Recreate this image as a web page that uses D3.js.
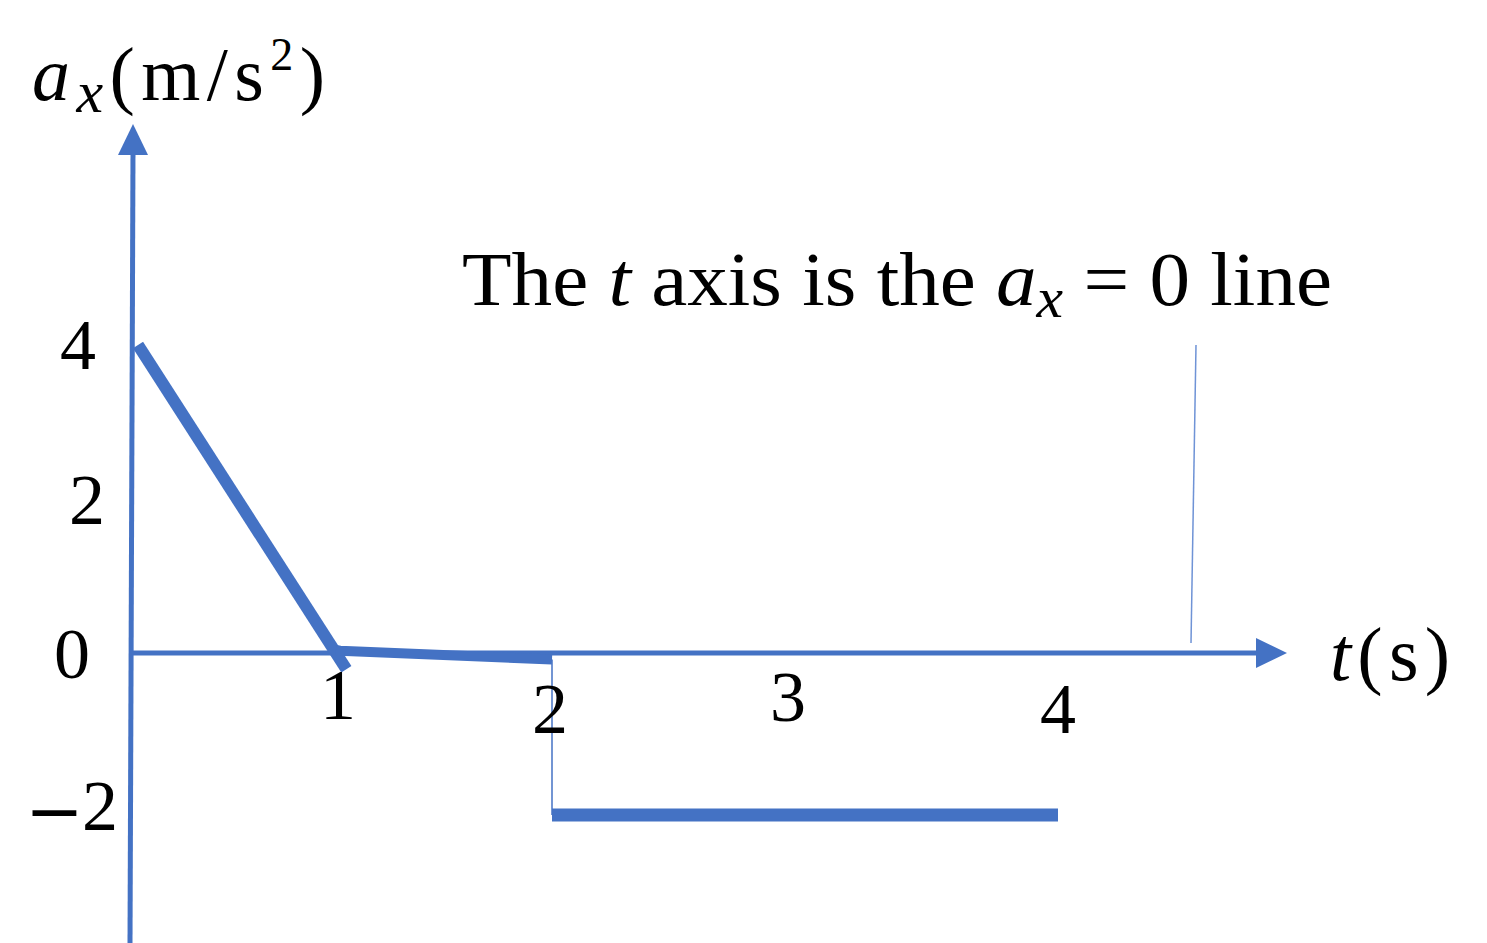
<!DOCTYPE html>
<html><head><meta charset="utf-8">
<script src="https://cdn.jsdelivr.net/npm/d3@7"></script>
<style>html,body{margin:0;padding:0;background:#fff;}svg{display:block;}</style>
</head><body>
<svg id="chart" width="1487" height="943"></svg>
<script>
// ---- data ----
const tTicks = [1, 2, 3, 4];
const tTickLabels = ["1", "2", "3", "4"];
const aTicks = [4, 2, 0, -2];
const aTickLabels = ["4", "2", "0", "\u22122"];
// segment 1: ramp from 4 down to 0 over 0..1 s
const rampT = [0, 1.03];
const rampA = [4, -0.2];
// segment 2: near zero from 1..2 s
const flatT = [0.98, 1, 2];
const flatA = [0.04, 0.03, -0.08];
// jump at t=2
const jumpT = [2, 2];
const jumpA = [-0.08, -2];
// segment 3: constant -2 from 2..4 s
const lowT = [2, 4];
const lowA = [-2, -2];

const blue = "#4472C4";
const svg = d3.select("#chart");
const serif = "'Liberation Serif', 'DejaVu Serif', serif";

// hand-drawn axis spacing -> polylinear scales
const x = d3.scaleLinear().domain([0, 1, 2, 3, 4]).range([138, 340, 552, 790, 1058]);
const y = d3.scaleLinear().domain([-2, 0, 2, 4]).range([815, 653, 500, 345]);

// axes
svg.append("line").attr("x1", 130).attr("y1", 943).attr("x2", 133).attr("y2", 150)
  .attr("stroke", blue).attr("stroke-width", 5);
svg.append("path").attr("d", "M133,124 L148,155 L118,155 Z").attr("fill", blue);
svg.append("line").attr("x1", 133).attr("y1", y(0)).attr("x2", 1258).attr("y2", y(0))
  .attr("stroke", blue).attr("stroke-width", 5);
svg.append("path").attr("d", `M1287,${y(0)} L1256,${y(0)-15} L1256,${y(0)+15} Z`).attr("fill", blue);

// data lines
const line = d3.line().x(d => x(d[0])).y(d => y(d[1]));
const zip = (a, b) => a.map((v, i) => [v, b[i]]);
svg.append("path").datum(zip(rampT, rampA)).attr("d", line)
  .attr("fill", "none").attr("stroke", blue).attr("stroke-width", 12);
svg.append("path").datum(zip(flatT, flatA)).attr("d", line)
  .attr("fill", "none").attr("stroke", blue).attr("stroke-width", 10);
svg.append("path").datum(zip(jumpT, jumpA)).attr("d", line)
  .attr("fill", "none").attr("stroke", blue).attr("stroke-width", 1.5);
svg.append("path").datum(zip(lowT, lowA)).attr("d", line)
  .attr("fill", "none").attr("stroke", blue).attr("stroke-width", 13);

// pointer line
svg.append("line").attr("x1", 1196).attr("y1", 345).attr("x2", 1191).attr("y2", 643)
  .attr("stroke", "#6f93d6").attr("stroke-width", 1.5);

// tick labels
const tOffsets = [66, 80, 68, 80];
const tDx = [0, 0, 0, 2];
svg.selectAll(".tl").data(tTicks).enter().append("text")
  .attr("x", (d, i) => x(d) + tDx[i] - 2).attr("y", (d, i) => y(0) + tOffsets[i])
  .attr("text-anchor", "middle").attr("font-family", serif).attr("font-size", 72)
  .attr("fill", "#000").text((d, i) => tTickLabels[i]);
const aX = [78, 87, 72, 118];
const aAnchor = ["middle", "middle", "middle", "end"];
const aDy = [24, 24, 25, 15];
svg.selectAll(".al").data(aTicks).enter().append("text")
  .attr("x", (d, i) => aX[i]).attr("y", (d, i) => y(d) + aDy[i])
  .attr("text-anchor", (d, i) => aAnchor[i]).attr("font-family", serif).attr("font-size", 72)
  .attr("fill", "#000")
  .each(function (d, i) {
    const s = aTickLabels[i];
    const t = d3.select(this);
    if (s.startsWith("\u2212")) {
      t.append("tspan").attr("font-family", "'DejaVu Sans', sans-serif").attr("font-size", 70)
        .attr("dy", 5).text("\u2212");
      t.append("tspan").attr("dx", -2).attr("dy", -5).text(s.slice(1));
    } else {
      t.text(s);
    }
  });

// y title
const yt = svg.append("text").attr("x", 32).attr("y", 100)
  .attr("font-family", serif).attr("font-size", 76).attr("fill", "#000")
  .attr("textLength", 293).attr("lengthAdjust", "spacing");
yt.append("tspan").attr("font-style", "italic").text("a");
yt.append("tspan").attr("font-style", "italic").attr("font-size", 60).attr("dy", 12).text("x");
yt.append("tspan").attr("dy", -12).text("(m/s");
yt.append("tspan").attr("font-size", 46).attr("dy", -30).text("2");
yt.append("tspan").attr("dy", 30).text(")");

// x title
const xt = svg.append("text").attr("x", 1330).attr("y", 680)
  .attr("font-family", serif).attr("font-size", 76).attr("fill", "#000")
  .attr("textLength", 120).attr("lengthAdjust", "spacing");
xt.append("tspan").attr("font-style", "italic").text("t");
xt.append("tspan").text("(s)");

// annotation
const an = svg.append("text").attr("x", 462).attr("y", 305)
  .attr("font-family", serif).attr("font-size", 76).attr("fill", "#000")
  .attr("textLength", 870).attr("lengthAdjust", "spacingAndGlyphs");
an.append("tspan").text("The ");
an.append("tspan").attr("font-style", "italic").text("t");
an.append("tspan").text(" axis is the ");
an.append("tspan").attr("font-style", "italic").text("a");
an.append("tspan").attr("font-style", "italic").attr("font-size", 56).attr("dy", 12).text("x");
an.append("tspan").attr("dy", -12).text(" = 0 line");
</script>
</body></html>
